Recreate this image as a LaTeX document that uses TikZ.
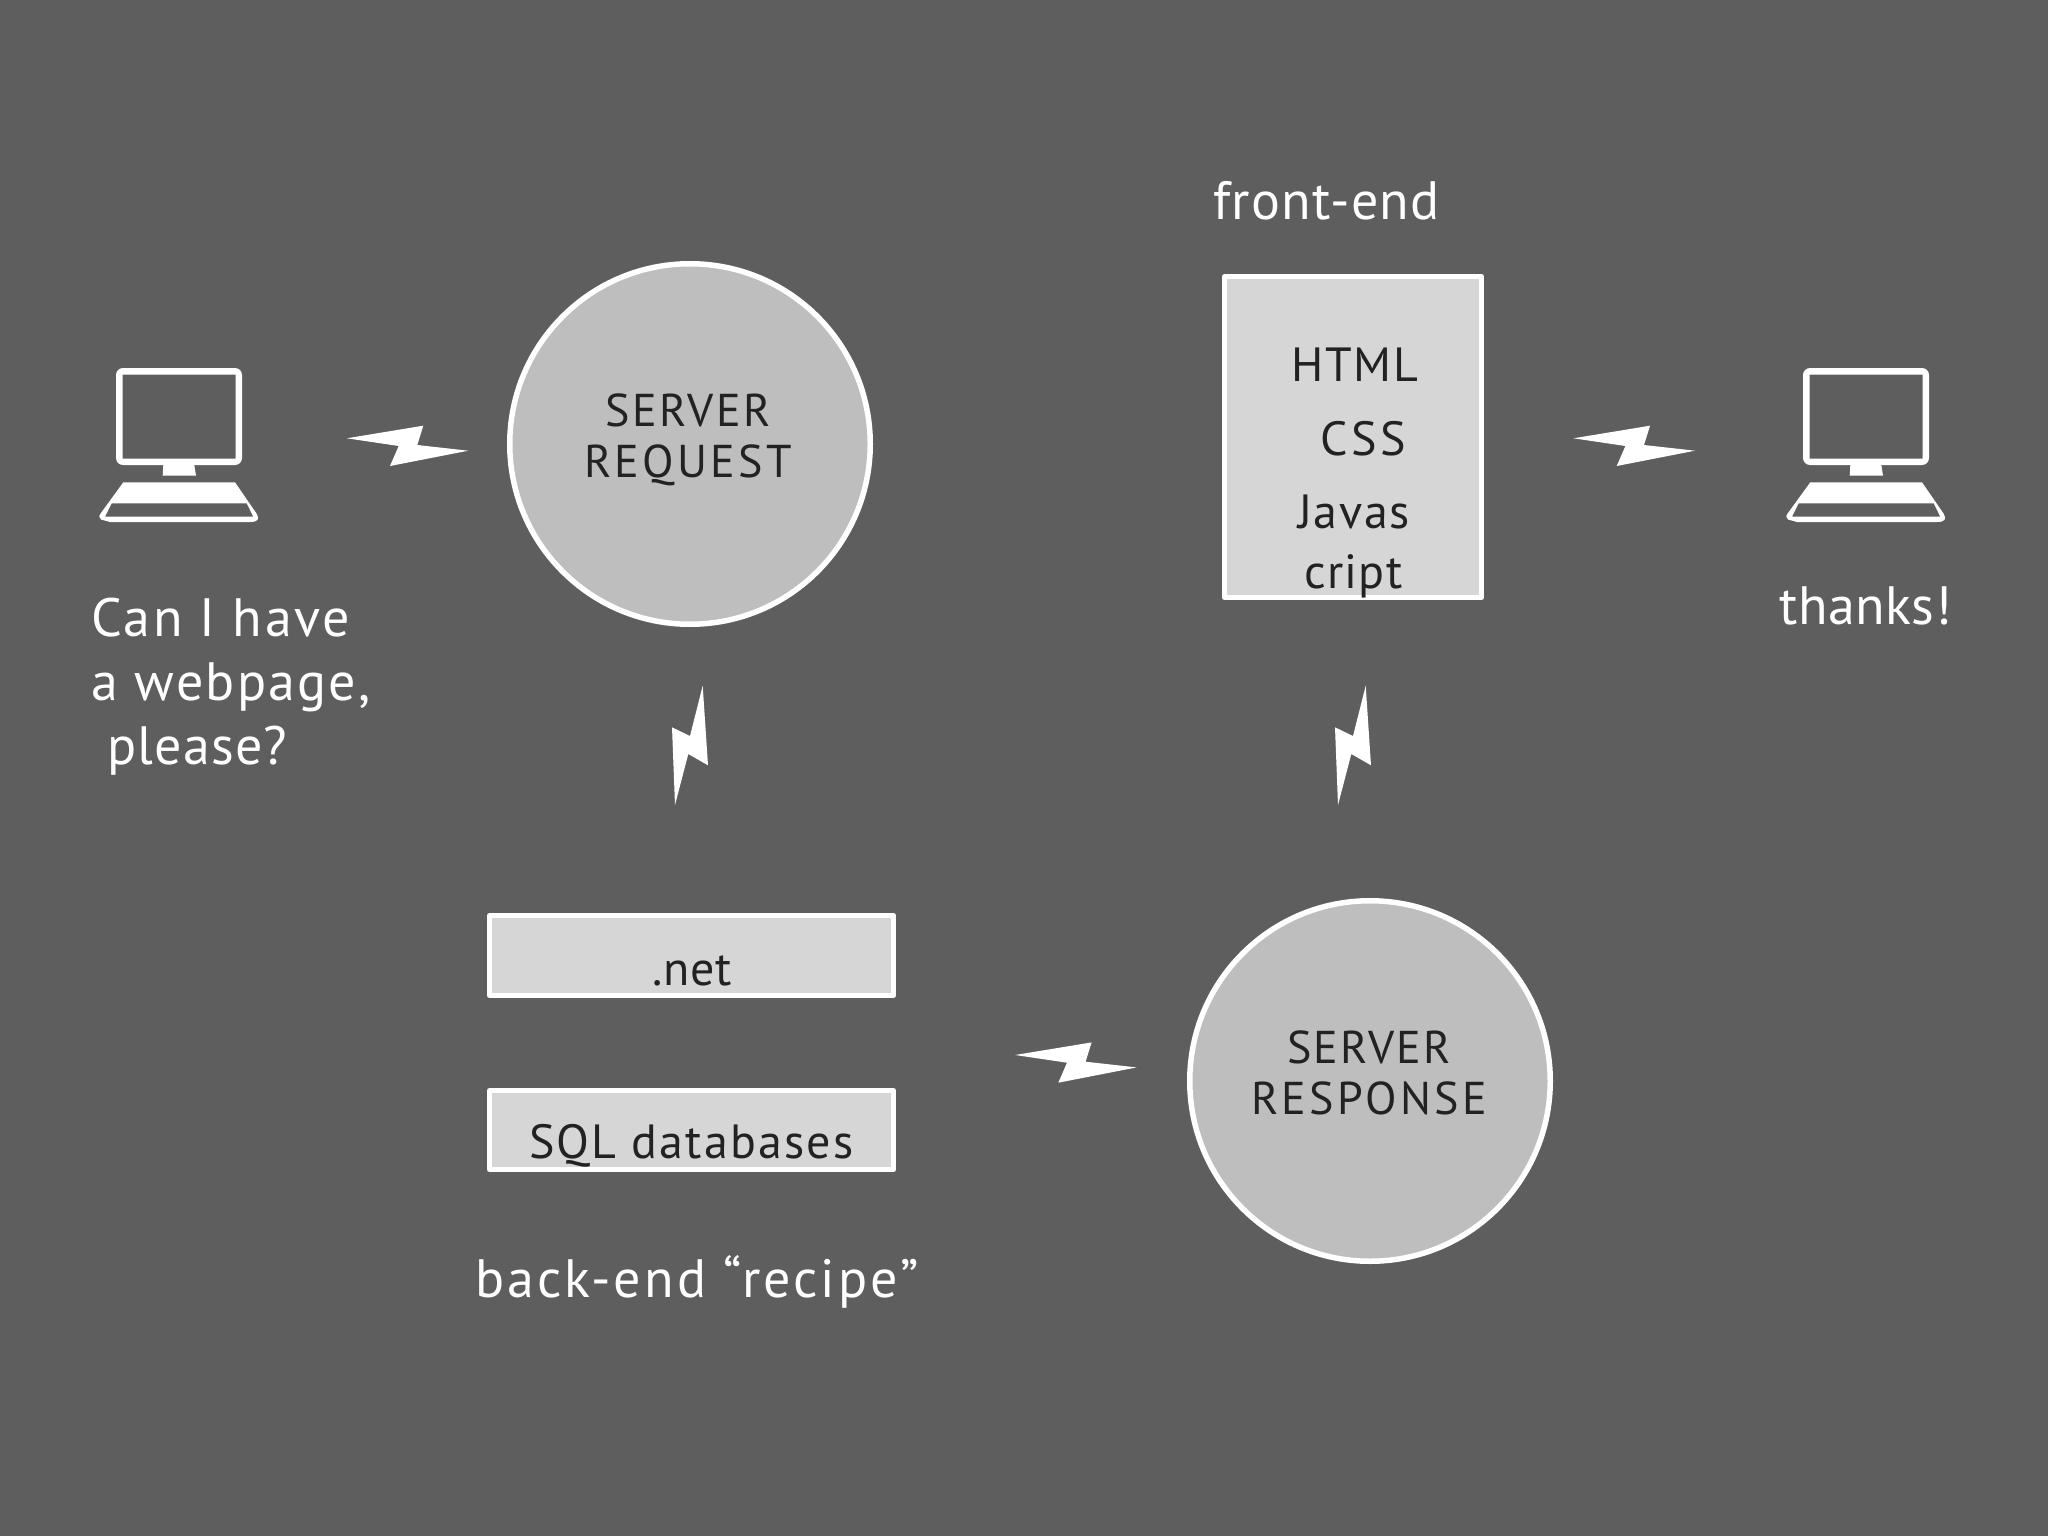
\documentclass[tikz,border=0pt]{standalone}
\usepackage{fontspec}
\setmainfont{PT Sans}
\newfontfamily\spaced[LetterSpace=7]{PT Sans}
\definecolor{bggray}{HTML}{5E5E5E}
\definecolor{discfill}{HTML}{BEBEBE}
\definecolor{boxfill}{HTML}{D6D6D6}
\definecolor{inktext}{HTML}{222222}
\newcommand{\lsp}[1]{\addfontfeature{LetterSpace=#1}}
\tikzset{
  disc/.style={circle,draw=white,line width=5.5pt,fill=discfill,minimum size=360.5pt,inner sep=0pt},
  panel/.style={draw=white,line width=5pt,fill=boxfill,line join=round},
  darklabel/.style={text=inktext,inner sep=0pt,anchor=base west,font=\fontsize{48}{55}\selectfont},
  whitelabel/.style={text=white,inner sep=0pt,anchor=base west,font=\fontsize{54}{64}\selectfont},
  disclabel/.style={text=inktext,inner sep=0pt,anchor=base,align=center,font=\fontsize{46}{51}\selectfont\spaced},
  bolt/.style={fill=white,draw=none},
  pics/computer/.style={code={
    \fill[white,even odd rule]
      [rounded corners=7pt] (116,368) rectangle (242,465)
      [sharp corners] (122.5,374.5) rectangle (235.5,458.5);
    \fill[white] (163.3,465) -- (194.3,465) -- (196,475.7) -- (162.7,475.7) -- cycle;
    \fill[white,even odd rule]
      (123.3,482.3) -- (235,482.3) -- (256.5,513.5)
      .. controls (260,519) and (258,522) .. (250,522)
      -- (110,522) -- (101,519.5)
      .. controls (98.5,518) and (99,515.5) .. (101,513) -- cycle
      (111.7,503.3) -- (246.7,503.3) -- (253.3,516.7) -- (105,516.7) -- cycle;
  }},
  pics/hbolt/.style={code={
    \fill[bolt] (346.7,438.3) -- (423.3,425.7) -- (417.3,445) -- (468.3,450.7) -- (390,466) -- (398.7,446) -- cycle;
  }},
  pics/vbolt/.style={code={
    \fill[bolt] (702.7,685.7) -- (708,765.3) -- (688.3,754) -- (675,805) -- (672,727.3) -- (690,736) -- cycle;
  }}
}
\begin{document}
\begin{tikzpicture}[x=1pt,y=-1pt]
\useasboundingbox (0,0) rectangle (2048,1536);
\fill[bggray] (0,0) rectangle (2048,1536);
% computers
\pic (pcleft) at (0,0) {computer};
\pic (pcright) at (1687,0) {computer};
% bolts
\pic (boltreq) at (0,0) {hbolt};
\pic (boltthanks) at (1226.7,0) {hbolt};
\pic (boltresp) at (668.3,616.7) {hbolt};
\pic (boltback) at (0,0) {vbolt};
\pic (boltfront) at (663,0) {vbolt};
% discs
\node[disc] (request) at (690,444) {};
\node[disc] (response) at (1370,1081) {};
\node[disclabel] (requesttext) at (688,477) {\lsp{5.6}SERVER\\REQUEST};
\node[disclabel] (responsetext) at (1369,1114) {\lsp{5}SERVER\\RESPONSE};
% boxes
\draw[panel] (1224.5,276.5) rectangle (1481.5,597.5);
\draw[panel] (489.5,915.5) rectangle (893.5,995.5);
\draw[panel] (489.5,1090.5) rectangle (893.5,1169.5);
% box texts
\node[darklabel] (html) at (1291,381) {\lsp{4}HTML};
\node[darklabel] (css) at (1320,455) {\lsp{8}CSS};
\node[darklabel] (javas) at (1298,528) {\lsp{3.5}Javas};
\node[darklabel] (cript) at (1304,588) {\lsp{2.7}cript};
\node[darklabel] (net) at (652,985) {\lsp{1.8}.net};
\node[darklabel] (sql) at (529,1158) {\lsp{4.6}SQL databases};
% white labels
\node[whitelabel] (frontend) at (1213,219) {\lsp{2.4}front-end};
\node[whitelabel] (backend) at (475,1297) {\lsp{5.8}back-end “recipe”};
\node[whitelabel] (thanks) at (1779,624) {\lsp{1}thanks!};
\node[whitelabel] (ask1) at (91,636) {\lsp{5}Can I have};
\node[whitelabel] (ask2) at (91,700) {\lsp{4.2}a webpage,};
\node[whitelabel] (ask3) at (107,764) {\lsp{2.2}please?};
\end{tikzpicture}
\end{document}
